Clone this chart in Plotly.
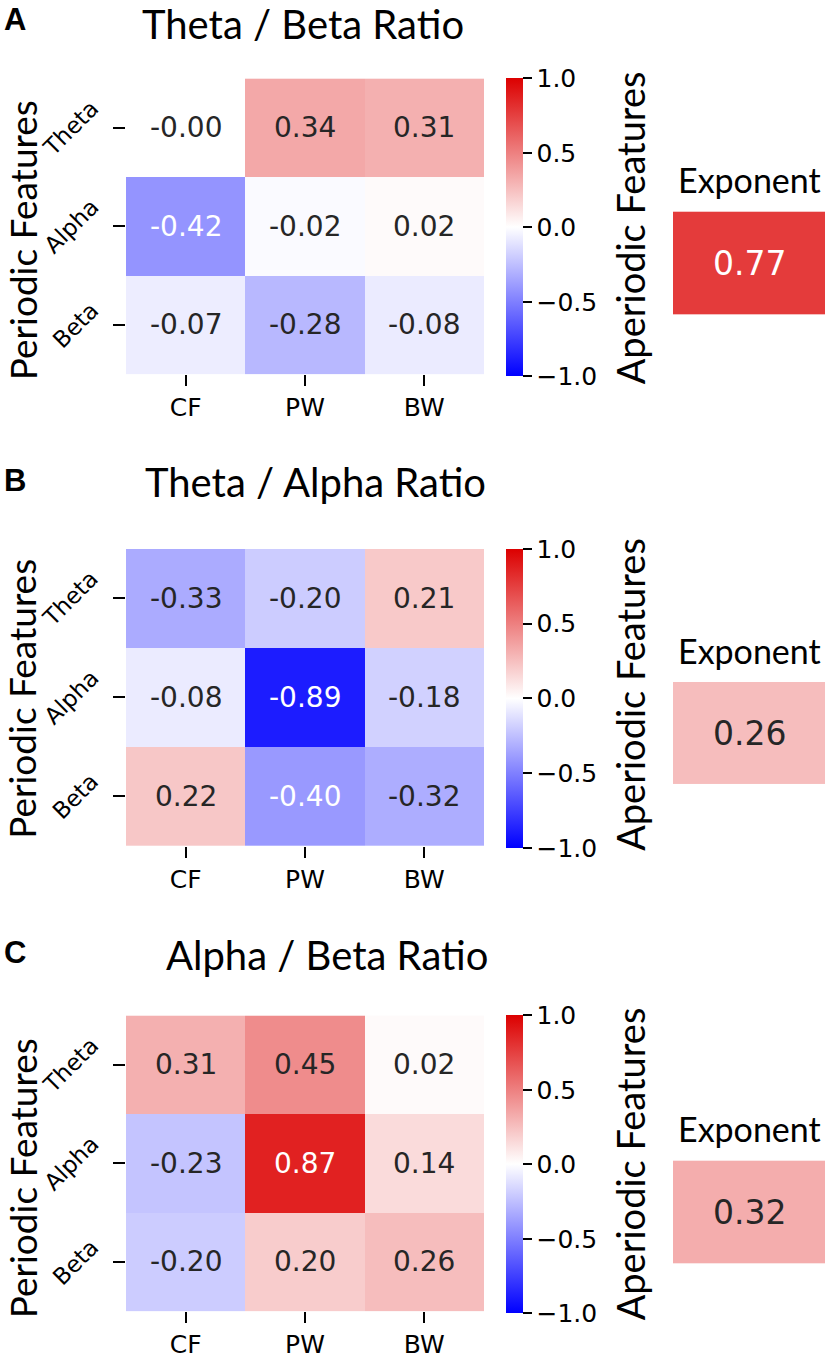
import plotly.graph_objects as go

W, H = 828, 1359

# ---------------- data ----------------
features = ["CF", "PW", "BW"]
bands = ["Theta", "Alpha", "Beta"]
titles = ["Theta / Beta Ratio", "Theta / Alpha Ratio", "Alpha / Beta Ratio"]
letters = ["A", "B", "C"]

corr_theta_beta = [[-0.0, 0.34, 0.31],
                   [-0.42, -0.02, 0.02],
                   [-0.07, -0.28, -0.08]]
corr_theta_alpha = [[-0.33, -0.20, 0.21],
                    [-0.08, -0.89, -0.18],
                    [0.22, -0.40, -0.32]]
corr_alpha_beta = [[0.31, 0.45, 0.02],
                   [-0.23, 0.87, 0.14],
                   [-0.20, 0.20, 0.26]]
exponent_corr = [0.77, 0.26, 0.32]

panels = [corr_theta_beta, corr_theta_alpha, corr_alpha_beta]
cbar_ticks = [-1.0, -0.5, 0.0, 0.5, 1.0]

# ---------------- style / layout (pixels) ----------------
BLUE = (0, 0, 255)
WHITE = (255, 255, 255)
RED = (220, 0, 0)
colorscale = [[0.0, "rgb(0,0,255)"], [0.5, "rgb(255,255,255)"], [1.0, "rgb(220,0,0)"]]

heat_top = [79, 553, 1023]
heat_bot = [377, 852, 1321]
heat_x0, heat_x1 = 126, 484
cbar_x0 = 506
exp_x0, exp_x1 = 673, 825
exp_top = [213, 687, 1169]
exp_bot = [317, 790, 1273]
exp_label_y = [181, 655, 1137]
aper_x = 630
aper_y = [230, 700, 1173]
per_x = 22
per_y = [242, 704, 1187]
title_x = [303, 315, 327]
title_y = [24, 486, 962]
letter_x = 15
letter_y = [20, 484, 960]
ylabel_right = 105

TICK_FONT = dict(family="DejaVu Sans", size=25, color="black")
YTICK_FONT = dict(family="DejaVu Sans", size=23, color="black")
ANNOT_FAMILY = "DejaVu Sans"
LABEL_FAMILY = "Lato"


def px_x(p):
    return p / W


def px_y(p):
    return 1 - p / H


def cell_color(v):
    t = (v + 1) / 2
    if t <= 0.5:
        a, b, f = BLUE, WHITE, t / 0.5
    else:
        a, b, f = WHITE, RED, (t - 0.5) / 0.5
    return [a[k] + (b[k] - a[k]) * f for k in range(3)]


def text_color(v):
    def lin(c):
        c = c / 255
        return c / 12.92 if c <= 0.03928 else ((c + 0.055) / 1.055) ** 2.4
    r, g, b = cell_color(v)
    lum = 0.2126 * lin(r) + 0.7152 * lin(g) + 0.0722 * lin(b)
    return "white" if lum < 0.38 else "#262626"


fig = go.Figure()
annotations = []
layout_axes = {}

for i in range(3):
    z = panels[i]
    hx = "x" if i == 0 else f"x{2*i+1}"
    hy = "y" if i == 0 else f"y{2*i+1}"
    ex = f"x{2*i+2}"
    ey = f"y{2*i+2}"

    fig.add_trace(go.Heatmap(
        z=z, x=features, y=bands, xaxis=hx, yaxis=hy,
        zmin=-1, zmax=1, colorscale=colorscale, hoverinfo="skip",
        colorbar=dict(
            x=px_x(cbar_x0), xanchor="left", xpad=0,
            y=px_y(heat_top[i]), yanchor="top", ypad=0,
            len=heat_bot[i] - heat_top[i], lenmode="pixels",
            thickness=17, thicknessmode="pixels", outlinewidth=0,
            ticks="outside", ticklen=9, tickwidth=2, tickcolor="black",
            tickvals=cbar_ticks, tickformat=".1f", tickfont=TICK_FONT,
        ),
    ))
    fig.add_trace(go.Heatmap(
        z=[[exponent_corr[i]]], x=[0], y=[0], xaxis=ex, yaxis=ey,
        zmin=-1, zmax=1, colorscale=colorscale, showscale=False, hoverinfo="skip",
    ))

    hxk = "xaxis" if i == 0 else f"xaxis{2*i+1}"
    hyk = "yaxis" if i == 0 else f"yaxis{2*i+1}"
    layout_axes[hxk] = dict(
        domain=[px_x(heat_x0), px_x(heat_x1)], anchor=hy,
        showgrid=False, zeroline=False, showline=False,
        ticks="outside", ticklen=11, tickwidth=2, tickcolor="black",
        tickfont=TICK_FONT, fixedrange=True,
    )
    layout_axes[hyk] = dict(
        domain=[px_y(heat_bot[i]), px_y(heat_top[i])], anchor=hx,
        autorange="reversed",
        showgrid=False, zeroline=False, showline=False,
        ticks="outside", ticklen=12, tickwidth=2, tickcolor="black",
        showticklabels=False, fixedrange=True,
    )
    layout_axes[f"xaxis{2*i+2}"] = dict(
        domain=[px_x(exp_x0), px_x(exp_x1)], anchor=ey, visible=False,
    )
    layout_axes[f"yaxis{2*i+2}"] = dict(
        domain=[px_y(exp_bot[i]), px_y(exp_top[i])], anchor=ex, visible=False,
    )

    # rotated y tick labels (matplotlib-style: right edge at tick, centred on row)
    for band in bands:
        annotations.append(dict(
            x=px_x(ylabel_right), xref="paper", y=band, yref=hy,
            text=band, showarrow=False, textangle=-45,
            xanchor="right", yanchor="middle", borderpad=0,
            font=YTICK_FONT,
        ))

    # cell annotations
    for r, band in enumerate(bands):
        for c, feat in enumerate(features):
            v = z[r][c]
            annotations.append(dict(
                x=feat, y=band, xref=hx, yref=hy, text=f"{v:.2f}", showarrow=False,
                font=dict(family=ANNOT_FAMILY, size=28, color=text_color(v)),
            ))
    ev = exponent_corr[i]
    annotations.append(dict(
        x=0, y=0, xref=ex, yref=ey, text=f"{ev:.2f}", showarrow=False,
        font=dict(family=ANNOT_FAMILY, size=33, color=text_color(ev)),
    ))

    # labels
    annotations.append(dict(
        x=px_x(title_x[i]), y=px_y(title_y[i]), xref="paper", yref="paper",
        text=titles[i], showarrow=False, xanchor="center", yanchor="middle",
        font=dict(family=LABEL_FAMILY, size=40, color="black"),
    ))
    annotations.append(dict(
        x=px_x(letter_x), y=px_y(letter_y[i]), xref="paper", yref="paper",
        text=f"<b>{letters[i]}</b>", showarrow=False, xanchor="center", yanchor="middle",
        font=dict(family="Liberation Sans", size=31, color="black"),
    ))
    annotations.append(dict(
        x=px_x(per_x), y=px_y(per_y[i]), xref="paper", yref="paper",
        text="Periodic Features", showarrow=False, textangle=-90,
        xanchor="center", yanchor="middle", borderpad=0,
        font=dict(family=LABEL_FAMILY, size=37, color="black"),
    ))
    annotations.append(dict(
        x=px_x(aper_x), y=px_y(aper_y[i]), xref="paper", yref="paper",
        text="Aperiodic Features", showarrow=False, textangle=-90,
        xanchor="center", yanchor="middle",
        font=dict(family=LABEL_FAMILY, size=38, color="black"),
    ))
    annotations.append(dict(
        x=px_x((exp_x0 + exp_x1) / 2), y=px_y(exp_label_y[i]), xref="paper", yref="paper",
        text="Exponent", showarrow=False, xanchor="center", yanchor="middle",
        font=dict(family=LABEL_FAMILY, size=34, color="black"),
    ))

fig.update_layout(
    width=W, height=H,
    margin=dict(l=0, r=0, t=0, b=0),
    paper_bgcolor="white", plot_bgcolor="white",
    showlegend=False,
    annotations=annotations,
    **layout_axes,
)

fig.write_html(
    "out.html",
    config={"displayModeBar": False},
    post_script="document.body.style.margin='0';document.body.style.padding='0';",
)
